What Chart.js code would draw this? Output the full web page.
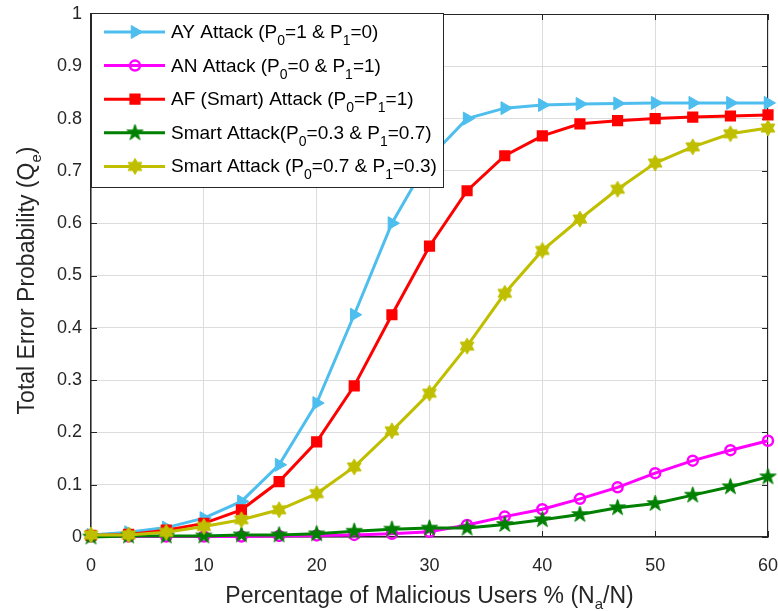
<!DOCTYPE html>
<html>
<head>
<meta charset="utf-8">
<script src="https://cdn.jsdelivr.net/npm/chart.js@4.4.1/dist/chart.umd.min.js"></script>
<style>
    html, body { margin: 0; padding: 0; background: #fff; }
    #wrap { width: 778px; height: 611px; }
</style>
</head>
<body>
<div id="wrap"><canvas id="chart" width="778" height="611"></canvas></div>
<script>
// --- DATA ---
const malicious = [0, 3.33, 6.67, 10, 13.33, 16.67, 20, 23.33, 26.67, 30, 33.33, 36.67, 40, 43.33, 46.67, 50, 53.33, 56.67, 60];
const ayAttack  = [0.004, 0.009, 0.018, 0.036, 0.068, 0.138, 0.256, 0.425, 0.600, 0.725, 0.800, 0.820, 0.826, 0.828, 0.829, 0.830, 0.830, 0.830, 0.830];
const anAttack  = [0.001, 0.001, 0.001, 0.001, 0.001, 0.002, 0.003, 0.004, 0.006, 0.010, 0.023, 0.039, 0.053, 0.073, 0.095, 0.122, 0.146, 0.166, 0.184];
const afAttack  = [0.003, 0.005, 0.013, 0.026, 0.052, 0.106, 0.182, 0.289, 0.425, 0.556, 0.662, 0.729, 0.767, 0.790, 0.796, 0.800, 0.803, 0.805, 0.807];
const smart37   = [0.000, 0.002, 0.002, 0.002, 0.004, 0.004, 0.006, 0.011, 0.015, 0.017, 0.017, 0.024, 0.033, 0.043, 0.056, 0.064, 0.080, 0.096, 0.115];
const smart73   = [0.004, 0.004, 0.009, 0.020, 0.033, 0.052, 0.083, 0.134, 0.203, 0.275, 0.365, 0.466, 0.548, 0.608, 0.665, 0.715, 0.746, 0.771, 0.782];

const seriesNames = [
    "AY Attack (P_0=1 & P_1=0)",
    "AN Attack (P_0=0 & P_1=1)",
    "AF (Smart) Attack (P_0=P_1=1)",
    "Smart Attack(P_0=0.3 & P_1=0.7)",
    "Smart Attack (P_0=0.7 & P_1=0.3)"
];
const xTickLabels = ["0", "10", "20", "30", "40", "50", "60"];
const yTickLabels = ["0", "0.1", "0.2", "0.3", "0.4", "0.5", "0.6", "0.7", "0.8", "0.9", "1"];
const xTitle = "Percentage of Malicious Users % (N_a/N)";
const yTitle = "Total Error Probability (Q_e)";

const FONT = "'Liberation Sans', Arial, Helvetica, sans-serif";
const AXIS_COLOR = "#262626";

// --- star markers (pentagram / hexagram) ---
function makeStar(points, outerR, innerR, color) {
    let size = Math.ceil(outerR * 2 + 4);
    let c = document.createElement('canvas');
    c.width = size; c.height = size;
    let g = c.getContext('2d');
    g.translate(size / 2, size / 2);
    g.beginPath();
    for (let i = 0; i < points * 2; i++) {
        let r = i % 2 ? innerR : outerR;
        let a = -Math.PI / 2 + i * Math.PI / points;
        g.lineTo(r * Math.cos(a), r * Math.sin(a));
    }
    g.closePath();
    g.fillStyle = color; g.fill();
    g.strokeStyle = color; g.lineWidth = 1; g.stroke();
    return c;
}
const pentagram = makeStar(5, 8.5, 8.5 * 0.382, '#008000');
const hexagram = makeStar(6, 8, 8 / Math.sqrt(3), '#BFBF00');

const styles = [
    { color: '#4DBEEE', pointStyle: 'triangle', rotation: 90, radius: 7.5, fill: '#4DBEEE', bw: 1 },
    { color: '#FF00FF', pointStyle: 'circle', rotation: 0, radius: 5, fill: 'rgba(0,0,0,0)', bw: 2.5 },
    { color: '#FF0000', pointStyle: 'rect', rotation: 0, radius: 6.5, fill: '#FF0000', bw: 2 },
    { color: '#008000', pointStyle: pentagram, rotation: 0, radius: 8, fill: '#008000', bw: 1 },
    { color: '#BFBF00', pointStyle: hexagram, rotation: 0, radius: 8, fill: '#BFBF00', bw: 1 }
];
const seriesValues = [ayAttack, anAttack, afAttack, smart37, smart73];

// --- text with subscripts: "P_0" -> P + subscript 0 ---
function richParts(str) {
    return str.split(/_(.)/).map((t, i) => ({ t, sub: i % 2 === 1 }));
}
function richWidth(ctx, parts, size, subSize) {
    let w = 0;
    parts.forEach(p => {
        ctx.font = (p.sub ? subSize : size) + "px " + FONT;
        w += ctx.measureText(p.t).width;
    });
    return w;
}
function drawRich(ctx, str, x, y, size, subSize, subDrop, align) {
    let parts = richParts(str);
    let w = richWidth(ctx, parts, size, subSize);
    let cx = align === 'center' ? x - w / 2 : x;
    ctx.textAlign = 'left';
    ctx.textBaseline = 'alphabetic';
    parts.forEach(p => {
        ctx.font = (p.sub ? subSize : size) + "px " + FONT;
        ctx.fillText(p.t, cx, p.sub ? y + subDrop : y);
        cx += ctx.measureText(p.t).width;
    });
}

// --- box, inward ticks, titles, legend ---
const matlabLook = {
    id: 'matlabLook',
    beforeDatasetsDraw(chart) {
        const ctx = chart.ctx, a = chart.chartArea;
        const xs = chart.scales.x, ys = chart.scales.y;
        ctx.save();
        ctx.strokeStyle = AXIS_COLOR;
        ctx.lineWidth = 1;
        ctx.beginPath();
        ctx.moveTo(a.left, a.top + 0.5); ctx.lineTo(a.right, a.top + 0.5);
        ctx.moveTo(a.right - 0.5, a.top); ctx.lineTo(a.right - 0.5, a.bottom);
        xs.ticks.forEach(t => {
            let px = Math.round(xs.getPixelForValue(t.value)) + 0.5;
            ctx.moveTo(px, a.bottom); ctx.lineTo(px, a.bottom - 6);
            ctx.moveTo(px, a.top); ctx.lineTo(px, a.top + 6);
        });
        ys.ticks.forEach(t => {
            let py = Math.round(ys.getPixelForValue(t.value)) + 0.5;
            ctx.moveTo(a.left, py); ctx.lineTo(a.left + 6, py);
            ctx.moveTo(a.right, py); ctx.lineTo(a.right - 6, py);
        });
        ctx.stroke();
        ctx.restore();
    },
    afterDraw(chart) {
        const ctx = chart.ctx, a = chart.chartArea;
        ctx.save();
        ctx.fillStyle = AXIS_COLOR;
        drawRich(ctx, xTitle, (a.left + a.right) / 2, 603, 23, 15, 6, 'center');
        ctx.translate(34, (a.top + a.bottom) / 2 + 5);
        ctx.rotate(-Math.PI / 2);
        drawRich(ctx, yTitle, 0, 0, 23, 15, 7, 'center');
        ctx.restore();

        // legend
        let lx = 91, ly = 13, lw = 352, lh = 174;
        ctx.save();
        ctx.fillStyle = '#fff';
        ctx.fillRect(lx, ly, lw, lh);
        ctx.strokeStyle = AXIS_COLOR;
        ctx.lineWidth = 1;
        ctx.strokeRect(lx + 0.5, ly + 0.5, lw, lh);
        seriesNames.forEach((name, i) => {
            let s = styles[i];
            let cy = 32 + i * 33.6;
            ctx.strokeStyle = s.color;
            ctx.lineWidth = 3;
            ctx.beginPath();
            ctx.moveTo(104, cy); ctx.lineTo(165, cy);
            ctx.stroke();
            ctx.fillStyle = s.fill;
            ctx.lineWidth = s.bw;
            Chart.helpers.drawPoint(ctx, { pointStyle: s.pointStyle, rotation: s.rotation, radius: s.radius, borderWidth: s.bw }, 135, cy);
            ctx.fillStyle = '#000';
            drawRich(ctx, name, 171, cy + 6, 19, 14, 7, 'left');
        });
        ctx.restore();
    }
};

// --- CHART ---
const datasets = seriesNames.map((name, i) => ({
    label: name,
    data: malicious.map((x, k) => ({ x: x, y: seriesValues[i][k] })),
    borderColor: styles[i].color,
    borderWidth: 3,
    pointStyle: styles[i].pointStyle,
    pointRotation: styles[i].rotation,
    pointRadius: styles[i].radius,
    pointBackgroundColor: styles[i].fill,
    pointBorderColor: styles[i].color,
    pointBorderWidth: styles[i].bw,
    tension: 0,
    clip: false,
    order: seriesNames.length - i
}));

new Chart(document.getElementById('chart'), {
    type: 'line',
    data: { datasets: datasets },
    options: {
        responsive: false,
        animation: false,
        devicePixelRatio: 1,
        layout: { padding: { top: 14, right: 10, left: 0, bottom: 0 } },
        plugins: { legend: { display: false }, tooltip: { enabled: false } },
        scales: {
            x: {
                type: 'linear', min: 0, max: 60,
                afterFit: s => { s.height = 74; s.paddingLeft = 0; s.paddingRight = 0; },
                ticks: {
                    stepSize: 10, padding: 18, color: AXIS_COLOR, maxRotation: 0,
                    font: { family: FONT, size: 18 },
                    callback: (v, i) => xTickLabels[i]
                },
                grid: { color: '#dcdcdc', lineWidth: 1, drawTicks: false },
                border: { display: true, color: AXIS_COLOR, width: 1.5 }
            },
            y: {
                type: 'linear', min: 0, max: 1,
                afterFit: s => { s.width = 91; s.paddingTop = 0; s.paddingBottom = 0; },
                ticks: {
                    stepSize: 0.1, padding: 9, color: AXIS_COLOR,
                    font: { family: FONT, size: 18 },
                    callback: (v, i) => yTickLabels[i]
                },
                grid: { color: '#dcdcdc', lineWidth: 1, drawTicks: false },
                border: { display: true, color: AXIS_COLOR, width: 1.5 }
            }
        }
    },
    plugins: [matlabLook]
});
</script>
</body>
</html>
